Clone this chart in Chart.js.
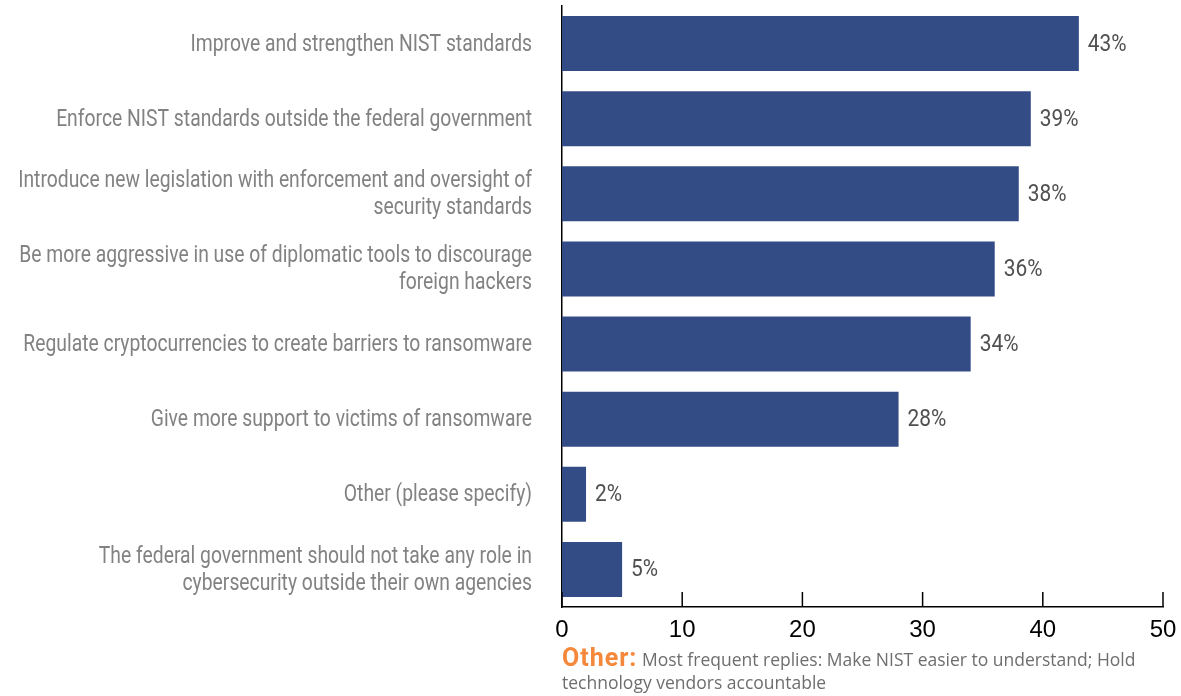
<!DOCTYPE html>
<html>
<head>
<meta charset="utf-8">
<script src="https://cdn.jsdelivr.net/npm/chart.js@4.4.1/dist/chart.umd.min.js"></script>
<style>
  html, body { margin: 0; padding: 0; background: #fff; }
  #wrap { position: relative; width: 1181px; height: 696px; }
  #note {
    position: absolute; left: 562px; top: 648px;
    font-family: "Open Sans", Lato, sans-serif; font-size: 17.5px; line-height: 23px;
    color: #6e6e6e; white-space: nowrap;
  }
  #note b { font-family: Roboto, sans-serif; font-weight: 700; font-size: 25px; letter-spacing: 1px; color: #f5883a; line-height: 0; }
</style>
</head>
<body>
<div id="wrap">
  <canvas id="chart" width="1181" height="696"></canvas>
  <div id="note"><b>Other:</b> Most frequent replies: Make NIST easier to understand; Hold<br>technology vendors accountable</div>
</div>
<script>
const categories = [
  'Improve and strengthen NIST standards',
  'Enforce NIST standards outside the federal government',
  ['Introduce new legislation with enforcement and oversight of', 'security standards'],
  ['Be more aggressive in use of diplomatic tools to discourage', 'foreign hackers'],
  'Regulate cryptocurrencies to create barriers to ransomware',
  'Give more support to victims of ransomware',
  'Other (please specify)',
  ['The federal government should not take any role in', 'cybersecurity outside their own agencies']
];
const shares = [43, 39, 38, 36, 34, 28, 2, 5];
const xTicks = [0, 10, 20, 30, 40, 50];

// the original uses a condensed face; squeeze Roboto horizontally instead
const labelFont = '24px Roboto, sans-serif';
const valueFont = '24px Roboto, sans-serif';
const labelSqueeze = 0.805;
const valueSqueeze = 0.87;

function condensedText(ctx, text, x, y, sx) {
  ctx.save();
  ctx.translate(x, y);
  ctx.scale(sx, 1);
  ctx.fillText(text, 0, 0);
  ctx.restore();
}

// category labels, right aligned left of the y axis
const categoryLabels = {
  id: 'categoryLabels',
  afterDraw(chart) {
    const ctx = chart.ctx;
    const yScale = chart.scales.y;
    const right = chart.chartArea.left - 30;
    ctx.save();
    ctx.font = labelFont;
    ctx.fillStyle = '#828282';
    ctx.textAlign = 'right';
    ctx.textBaseline = 'middle';
    categories.forEach((cat, i) => {
      const lines = Array.isArray(cat) ? cat : [cat];
      const cy = yScale.getPixelForTick(i) + 1;
      lines.forEach((line, j) => {
        const ly = cy + (j - (lines.length - 1) / 2) * 27;
        condensedText(ctx, line, right, ly, labelSqueeze);
      });
    });
    ctx.restore();
  }
};

// value labels at the end of each bar
const valueLabels = {
  id: 'valueLabels',
  afterDatasetsDraw(chart) {
    const ctx = chart.ctx;
    const meta = chart.getDatasetMeta(0);
    ctx.save();
    ctx.font = valueFont;
    ctx.fillStyle = '#505050';
    ctx.textAlign = 'left';
    ctx.textBaseline = 'middle';
    meta.data.forEach((bar, i) => {
      condensedText(ctx, shares[i] + '%', bar.x + 9, bar.y + 1, valueSqueeze);
    });
    ctx.restore();
  }
};

// tick marks pointing up from the x axis
const innerTicks = {
  id: 'innerTicks',
  afterDraw(chart) {
    const ctx = chart.ctx;
    const x = chart.scales.x;
    const bottom = chart.chartArea.bottom;
    ctx.save();
    ctx.strokeStyle = '#000';
    ctx.lineWidth = 1.5;
    xTicks.forEach(v => {
      const px = x.getPixelForValue(v);
      ctx.beginPath();
      ctx.moveTo(px, bottom);
      ctx.lineTo(px, bottom - 15);
      ctx.stroke();
    });
    ctx.restore();
  }
};

new Chart(document.getElementById('chart'), {
  type: 'bar',
  data: {
    labels: categories,
    datasets: [{
      data: shares,
      backgroundColor: '#344c86',
      barPercentage: 0.732,
      categoryPercentage: 1
    }]
  },
  options: {
    indexAxis: 'y',
    responsive: false,
    animation: false,
    layout: { padding: { top: 6, right: 18, left: 0, bottom: 0 } },
    plugins: { legend: { display: false }, tooltip: { enabled: false } },
    scales: {
      x: {
        min: 0, max: 50,
        afterBuildTicks(scale) { scale.ticks = xTicks.map(v => ({ value: v })); },
        afterFit(scale) {
          scale.height = 89;
          scale.paddingLeft = 0;
          scale.paddingRight = 0;
        },
        grid: { display: false, drawTicks: false },
        border: { display: true, color: '#000', width: 1.5 },
        ticks: {
          color: '#000',
          padding: 9,
          font: { family: '"Liberation Sans", Arial, sans-serif', size: 24 }
        }
      },
      y: {
        afterFit(scale) { scale.width = 562; },
        grid: { display: false, drawTicks: false },
        border: { display: true, color: '#000', width: 1.5 },
        ticks: { display: false }
      }
    }
  },
  plugins: [valueLabels, innerTicks, categoryLabels]
});
</script>
</body>
</html>
